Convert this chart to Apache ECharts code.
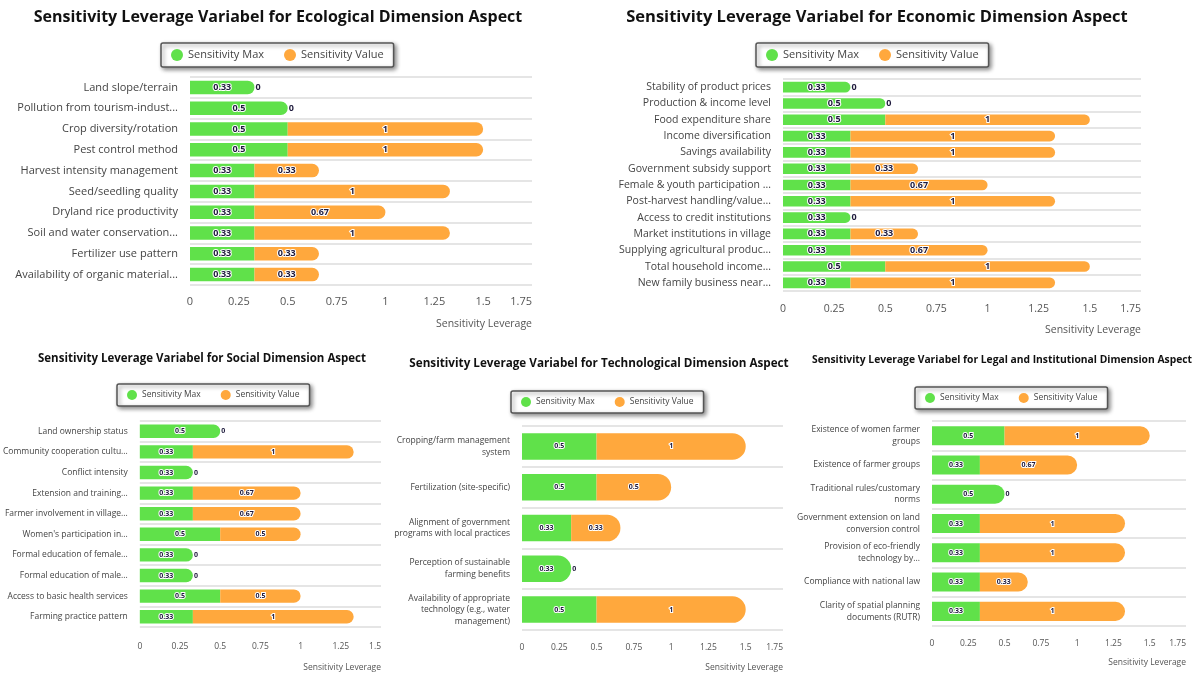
<!DOCTYPE html>
<html>
<head>
<meta charset="utf-8">
<title>Sensitivity Leverage</title>
<script src="https://cdn.jsdelivr.net/npm/echarts@6/dist/echarts.min.js"></script>
<style>
  html, body { margin: 0; background: #fff; }
  #main { width: 1200px; height: 680px; }
</style>
</head>
<body>
<div id="main"></div>
<script>
var seriesNames = ['Sensitivity Max', 'Sensitivity Value'];
var axisTitle = 'Sensitivity Leverage';

// Ecological
var ecoCats = ['Land slope/terrain', 'Pollution from tourism-indust...', 'Crop diversity/rotation',
  'Pest control method', 'Harvest intensity management', 'Seed/seedling quality',
  'Dryland rice productivity', 'Soil and water conservation...', 'Fertilizer use pattern',
  'Availability of organic material...'];
var ecoMax = [0.33, 0.5, 0.5, 0.5, 0.33, 0.33, 0.33, 0.33, 0.33, 0.33];
var ecoVal = [0, 0, 1, 1, 0.33, 1, 0.67, 1, 0.33, 0.33];

// Economic
var econCats = ['Stability of product prices', 'Production & income level', 'Food expenditure share',
  'Income diversification', 'Savings availability', 'Government subsidy support',
  'Female & youth participation ...', 'Post-harvest handling/value...', 'Access to credit institutions',
  'Market institutions in village', 'Supplying agricultural produc...', 'Total household income...',
  'New family business near...'];
var econMax = [0.33, 0.5, 0.5, 0.33, 0.33, 0.33, 0.33, 0.33, 0.33, 0.33, 0.33, 0.5, 0.33];
var econVal = [0, 0, 1, 1, 1, 0.33, 0.67, 1, 0, 0.33, 0.67, 1, 1];

// Social
var socCats = ['Land ownership status', 'Community cooperation cultu...', 'Conflict intensity',
  'Extension and training...', 'Farmer involvement in village...', "Women's participation in...",
  'Formal education of female...', 'Formal education of male...', 'Access to basic health services',
  'Farming practice pattern'];
var socMax = [0.5, 0.33, 0.33, 0.33, 0.33, 0.5, 0.33, 0.33, 0.5, 0.33];
var socVal = [0, 1, 0, 0.67, 0.67, 0.5, 0, 0, 0.5, 1];

// Technological
var techCats = ['Cropping/farm management\nsystem', 'Fertilization (site-specific)',
  'Alignment of government\nprograms with local practices', 'Perception of sustainable\nfarming benefits',
  'Availability of appropriate\ntechnology (e.g., water\nmanagement)'];
var techMax = [0.5, 0.5, 0.33, 0.33, 0.5];
var techVal = [1, 0.5, 0.33, 0, 1];

// Legal and institutional
var legCats = ['Existence of women farmer\ngroups', 'Existence of farmer groups',
  'Traditional rules/customary\nnorms', 'Government extension on land\nconversion control',
  'Provision of eco-friendly\ntechnology by...', 'Compliance with national law',
  'Clarity of spatial planning\ndocuments (RUTR)'];
var legMax = [0.5, 0.33, 0.5, 0.33, 0.33, 0.33, 0.33];
var legVal = [1, 0.67, 0, 1, 1, 0.33, 1];

var GREEN = '#60e14a';
var ORANGE = '#ffa83d';
var FONT = 'Open Sans';

var panels = [
  { title: 'Sensitivity Leverage Variabel for Ecological Dimension Aspect',
    cats: ecoCats, max: ecoMax, val: ecoVal, axisMax: 1.75,
    grid: { left: 190, right: 668, top: 77, bottom: 395 },
    tx: 273, ty: 4, tsize: 16, lx: 161, ly: 43, lfont: 11, icon: 12,
    font: 11, valFont: 9, tickMargin: 11, nameFont: 10.5, nameGap: 34 },
  { title: 'Sensitivity Leverage Variabel for Economic Dimension Aspect',
    cats: econCats, max: econMax, val: econVal, axisMax: 1.75,
    grid: { left: 783, right: 59, top: 79, bottom: 389 },
    tx: 872, ty: 4, tsize: 16.5, lx: 756, ly: 43, lfont: 11, icon: 12,
    font: 10.5, valFont: 9, tickMargin: 13, nameFont: 10.5, nameGap: 34 },
  { title: 'Sensitivity Leverage Variabel for Social Dimension Aspect',
    cats: socCats, max: socMax, val: socVal, axisMax: 1.5,
    grid: { left: 136, right: 819, top: 421, bottom: 53 },
    tx: 197, ty: 348, tsize: 11.5, lx: 117, ly: 384, lfont: 8.5, icon: 10,
    font: 8.5, valFont: 7, tickMargin: 15, nameFont: 8.5, nameGap: 36 },
  { title: 'Sensitivity Leverage Variabel for Technological Dimension Aspect',
    cats: techCats, max: techMax, val: techVal, axisMax: 1.75,
    grid: { left: 522, right: 417, top: 426, bottom: 50 },
    tx: 594, ty: 353, tsize: 11.7, lx: 511, ly: 391, lfont: 8.5, icon: 10,
    font: 8.5, valFont: 7, tickMargin: 13, nameFont: 8.5, nameGap: 33 },
  { title: 'Sensitivity Leverage Variabel for Legal and Institutional Dimension Aspect',
    cats: legCats, max: legMax, val: legVal, axisMax: 1.75,
    grid: { left: 932, right: 14, top: 421, bottom: 54 },
    tx: 997, ty: 350, tsize: 10.3, lx: 915, ly: 387, lfont: 8.5, icon: 10,
    font: 8.5, valFont: 7, tickMargin: 13, nameFont: 8.5, nameGap: 32 }
];

var option = {
  backgroundColor: '#fff',
  animation: false,
  textStyle: { fontFamily: FONT },
  title: [], legend: [], grid: [], xAxis: [], yAxis: [], series: []
};

panels.forEach(function (p, i) {
  // titles centred on tx
  option.title.push({
    text: p.title, left: p.tx, top: p.ty, textAlign: 'center',
    textStyle: { fontFamily: FONT, fontSize: p.tsize, fontWeight: 'bold', color: '#111' }
  });
  option.legend.push({
    data: seriesNames, left: p.lx, top: p.ly,
    icon: 'circle', itemWidth: p.icon, itemHeight: p.icon, itemGap: 20,
    padding: [6, 10], backgroundColor: '#fff',
    borderColor: '#555', borderWidth: 1.5, borderRadius: 2,
    shadowBlur: 4, shadowColor: 'rgba(0,0,0,0.45)', shadowOffsetX: 2, shadowOffsetY: 2,
    textStyle: { fontFamily: FONT, fontSize: p.lfont, color: '#444' }
  });
  option.grid.push({
    left: p.grid.left, right: p.grid.right, top: p.grid.top, bottom: p.grid.bottom,
    containLabel: false
  });
  option.xAxis.push({
    type: 'value', gridIndex: i, min: 0, max: p.axisMax, interval: 0.25,
    name: axisTitle, nameLocation: 'end', nameGap: 0,
    nameTextStyle: { fontFamily: FONT, fontSize: p.nameFont, color: '#555',
      align: 'right', verticalAlign: 'top', padding: [p.nameGap, 0, 0, 0] },
    axisLine: { show: false }, axisTick: { show: false }, splitLine: { show: false },
    axisLabel: { fontFamily: FONT, fontSize: p.font, color: '#555', margin: p.tickMargin,
      alignMaxLabel: 'right' }
  });
  option.yAxis.push({
    type: 'category', gridIndex: i, data: p.cats, inverse: true,
    axisLine: { show: false }, axisTick: { show: false },
    splitLine: { show: true, lineStyle: { color: '#dcdcdc', width: 1.5 } },
    axisLabel: { fontFamily: FONT, fontSize: p.font, color: '#444', margin: 12,
      lineHeight: p.font + 3 }
  });
  var lbl = {
    show: true, position: 'inside', fontFamily: FONT, fontSize: p.valFont,
    fontWeight: 'bold', color: '#1e1a3c', textBorderColor: '#fff', textBorderWidth: 2
  };
  option.series.push({
    name: seriesNames[0], type: 'bar', stack: 's' + i, xAxisIndex: i, yAxisIndex: i,
    barWidth: '65%', itemStyle: { color: GREEN }, label: lbl,
    data: p.max.map(function (v, j) {
      return { value: v, itemStyle: { borderRadius: p.val[j] === 0 ? [0, 30, 30, 0] : 0 } };
    })
  });
  option.series.push({
    name: seriesNames[1], type: 'bar', stack: 's' + i, xAxisIndex: i, yAxisIndex: i,
    barWidth: '65%', itemStyle: { color: ORANGE, borderRadius: [0, 30, 30, 0] }, label: lbl,
    data: p.val.map(function (v) {
      return v === 0 ? { value: v, label: { position: 'right', distance: 1 } } : v;
    })
  });
});

var chart = echarts.init(document.getElementById('main'), null, { renderer: 'canvas' });
chart.setOption(option);
</script>
</body>
</html>
